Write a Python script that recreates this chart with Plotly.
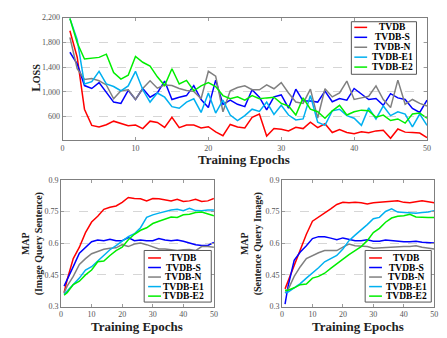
import plotly.graph_objects as go

# ---- top panel: training loss per epoch ----
epochs = list(range(1, 51))

loss_tvdb = [1986, 1560, 720, 459, 433, 470, 527, 485, 454, 464,
             407, 527, 506, 427, 590, 422, 464, 464, 417, 438,
             354, 291, 474, 433, 417, 590, 642, 286, 407, 396,
             370, 428, 407, 511, 422, 485, 344, 391, 344, 323,
             354, 339, 370, 380, 250, 400, 350, 345, 335, 260]
loss_tvdb_s = [1640, 1452, 1102, 1055, 1149, 982, 835, 814, 1024, 877,
               1055, 914, 982, 1175, 877, 914, 940, 1102, 877, 746,
               1190, 799, 867, 799, 762, 1034, 914, 710, 919, 950,
               736, 1044, 851, 851, 835, 1013, 840, 893, 867, 1055,
               961, 877, 893, 783, 971, 903, 877, 731, 668, 867]
loss_tvdb_n = [1881, 1374, 1201, 1217, 1180, 1112, 888, 1018, 1034, 877,
               1055, 1180, 1060, 1112, 1102, 1055, 1024, 1008, 888, 1332,
               1254, 679, 1018, 1070, 1097, 1034, 1034, 1112, 1050, 1149,
               982, 835, 814, 1044, 578, 1050, 919, 982, 1175, 877,
               903, 929, 1097, 877, 746, 1190, 799, 877, 814, 773]
loss_tvdb_e1 = [2184, 1844, 1128, 1165, 1332, 1128, 1086, 1018, 1097, 1332,
                1034, 835, 982, 914, 762, 736, 835, 888, 668, 982,
                658, 867, 626, 537, 616, 720, 684, 835, 637, 783,
                626, 548, 563, 940, 511, 459, 694, 720, 616, 574,
                459, 741, 563, 772, 616, 679, 642, 433, 642, 459]
loss_tvdb_e2 = [2184, 1792, 1531, 1547, 1557, 1609, 1311, 1206, 1269, 1572,
                1478, 1416, 1243, 1102, 1374, 1128, 1186, 1018, 1097, 1149,
                1086, 940, 888, 919, 867, 940, 888, 903, 914, 814,
                772, 626, 903, 720, 679, 574, 694, 783, 626, 679,
                705, 694, 590, 626, 537, 563, 495, 642, 658, 574]

# ---- bottom panels: MAP per epoch ----
map_epochs = [1, 2, 4, 6, 8, 10, 12, 14, 16, 18, 20, 22, 24, 26,
              28, 30, 32, 34, 36, 38, 40, 42, 44, 46, 48, 50]

iqs_tvdb = [0.366, 0.427, 0.527, 0.581, 0.650, 0.700, 0.727, 0.760, 0.770, 0.776, 0.793, 0.816, 0.811,
            0.810, 0.800, 0.811, 0.810, 0.806, 0.800, 0.808, 0.797, 0.800, 0.808, 0.797, 0.800, 0.811]
iqs_tvdb_s = [0.397, 0.430, 0.489, 0.553, 0.578, 0.607, 0.615, 0.612, 0.619, 0.612, 0.612, 0.627, 0.612,
              0.615, 0.612, 0.612, 0.622, 0.615, 0.612, 0.615, 0.609, 0.600, 0.593, 0.589, 0.589, 0.604]
iqs_tvdb_n = [0.366, 0.397, 0.443, 0.500, 0.527, 0.550, 0.561, 0.571, 0.576, 0.578, 0.593, 0.584, 0.596,
              0.601, 0.593, 0.584, 0.573, 0.573, 0.569, 0.565, 0.569, 0.570, 0.565, 0.584, 0.584, 0.581]
iqs_tvdb_e1 = [0.358, 0.374, 0.404, 0.435, 0.473, 0.489, 0.516, 0.542, 0.569, 0.588, 0.608, 0.631, 0.645,
               0.673, 0.722, 0.734, 0.742, 0.750, 0.757, 0.760, 0.754, 0.765, 0.754, 0.753, 0.757, 0.757]
iqs_tvdb_e2 = [0.354, 0.366, 0.404, 0.420, 0.450, 0.473, 0.512, 0.516, 0.542, 0.565, 0.581, 0.616, 0.642,
               0.661, 0.673, 0.693, 0.704, 0.714, 0.724, 0.722, 0.734, 0.737, 0.745, 0.747, 0.739, 0.730]

sqi_tvdb = [0.384, 0.420, 0.496, 0.565, 0.642, 0.704, 0.722, 0.742, 0.762, 0.783, 0.793, 0.791, 0.793,
            0.791, 0.785, 0.791, 0.793, 0.796, 0.796, 0.800, 0.793, 0.791, 0.796, 0.800, 0.796, 0.791]
sqi_tvdb_s = [0.312, 0.397, 0.519, 0.558, 0.588, 0.622, 0.631, 0.630, 0.624, 0.616, 0.625, 0.619, 0.612,
              0.612, 0.616, 0.609, 0.609, 0.615, 0.612, 0.612, 0.607, 0.607, 0.609, 0.604, 0.604, 0.601]
sqi_tvdb_n = [0.366, 0.381, 0.443, 0.489, 0.527, 0.542, 0.555, 0.565, 0.565, 0.565, 0.581, 0.596, 0.588,
              0.585, 0.584, 0.576, 0.578, 0.581, 0.581, 0.584, 0.584, 0.584, 0.588, 0.581, 0.576, 0.573]
sqi_tvdb_e1 = [0.366, 0.369, 0.389, 0.409, 0.435, 0.458, 0.484, 0.512, 0.527, 0.542, 0.573, 0.612, 0.638,
               0.661, 0.688, 0.716, 0.722, 0.750, 0.762, 0.747, 0.745, 0.742, 0.742, 0.745, 0.747, 0.754]
sqi_tvdb_e2 = [0.378, 0.378, 0.389, 0.404, 0.407, 0.435, 0.443, 0.458, 0.481, 0.504, 0.523, 0.546, 0.565,
               0.584, 0.612, 0.650, 0.670, 0.699, 0.719, 0.727, 0.730, 0.737, 0.724, 0.722, 0.722, 0.722]

names = ['TVDB', 'TVDB-S', 'TVDB-N', 'TVDB-E1', 'TVDB-E2']
colors = ['#ff0000', '#0000ff', '#808080', '#00b0f0', '#00ee00']

SERIF = 'Liberation Serif'
W, H = 447, 338


def px(x):
    return x / W


def py(y):
    return 1 - y / H


fig = go.Figure()

panels = [
    ('x', 'y', epochs, [loss_tvdb, loss_tvdb_s, loss_tvdb_n, loss_tvdb_e1, loss_tvdb_e2]),
    ('x2', 'y2', map_epochs, [iqs_tvdb, iqs_tvdb_s, iqs_tvdb_n, iqs_tvdb_e1, iqs_tvdb_e2]),
    ('x3', 'y3', map_epochs, [sqi_tvdb, sqi_tvdb_s, sqi_tvdb_n, sqi_tvdb_e1, sqi_tvdb_e2]),
]
for xa, ya, xs, series in panels:
    for name, color, ys in zip(names, colors, series):
        fig.add_trace(go.Scatter(
            x=xs, y=ys, mode='lines', name=name, showlegend=False,
            line=dict(color=color, width=1.5),
            xaxis=xa, yaxis=ya
        ))

axis_common = dict(
    showline=True, linecolor='#7f7f7f', linewidth=1, mirror='allticks',
    ticks='inside', ticklen=3, tickcolor='#9a9a9a',
    tickfont=dict(family=SERIF, size=8, color='#555555'),
    zeroline=False,
)
xgrid = dict(showgrid=False)
ygrid = dict(showgrid=True, gridcolor='#d6d6d6', griddash='dash', gridwidth=1)

map_ticks = [0.3, 0.45, 0.6, 0.75, 0.9]
map_labels = ['0.3', '0.45', '0.6', '0.75', '0.9']

fig.update_layout(
    width=W, height=H,
    margin=dict(l=0, r=0, t=0, b=0),
    paper_bgcolor='white', plot_bgcolor='white',
    font=dict(family=SERIF, color='black'),
    showlegend=False,
    xaxis=dict(domain=[0.1193, 0.9456], range=[0, 50], tickvals=[0, 10, 20, 30, 40, 50],
               anchor='y', **axis_common, **xgrid),
    yaxis=dict(domain=[0.6104, 0.9831], range=[220, 2200], tickvals=[600, 1000, 1400, 1800, 2200],
               tickformat=',', anchor='x', **axis_common, **ygrid),
    xaxis2=dict(domain=[0.1157, 0.4624], range=[0, 50], tickvals=[0, 10, 20, 30, 40, 50],
                anchor='y2', **axis_common, **xgrid),
    yaxis2=dict(domain=[0.1044, 0.4902], range=[0.3, 0.9], tickvals=map_ticks, ticktext=map_labels,
                anchor='x2', **axis_common, **ygrid),
    xaxis3=dict(domain=[0.6168, 0.962], range=[0, 50], tickvals=[0, 10, 20, 30, 40, 50],
                anchor='y3', **axis_common, **xgrid),
    yaxis3=dict(domain=[0.1044, 0.4902], range=[0.3, 0.9], tickvals=map_ticks, ticktext=map_labels,
                anchor='x3', **axis_common, **ygrid),
)


# compact legend boxes (plotly's own legend rows are too tall here)
def add_legend(x0, x1, y0, y1, first_row, row_gap, line_x0, line_x1, text_x):
    fig.add_shape(type='rect', xref='paper', yref='paper',
                  x0=px(x0), x1=px(x1), y0=py(y1), y1=py(y0),
                  line=dict(color='#555555', width=1), fillcolor='white', layer='above')
    for i, (name, color) in enumerate(zip(names, colors)):
        yy = first_row + i * row_gap
        fig.add_shape(type='line', xref='paper', yref='paper',
                      x0=px(line_x0), x1=px(line_x1), y0=py(yy), y1=py(yy),
                      line=dict(color=color, width=1.5), layer='above')
        fig.add_annotation(text=name, x=px(text_x), y=py(yy), xref='paper', yref='paper',
                           xanchor='center', yanchor='middle', showarrow=False,
                           font=dict(family=SERIF, size=9.5, color='black', weight='bold'))


add_legend(346, 412, 10, 64, 15.8, 10.2, 349, 362, 388)
add_legend(136, 204, 245, 298, 252.7, 9.8, 140, 153, 176)
add_legend(360, 427, 245, 298, 252.7, 9.8, 364, 377, 402)

# axis titles
title_font = dict(family=SERIF, size=13, color='#222222', weight='bold')
sub_font = dict(family=SERIF, size=10, color='#222222', weight='bold')


def add_title(text, x, y, font, angle=0):
    fig.add_annotation(text=text, x=px(x), y=py(y), xref='paper', yref='paper',
                       xanchor='center', yanchor='middle', showarrow=False,
                       textangle=angle, font=font)


add_title('Training Epochs', 237, 152, title_font)
add_title("L<span style='font-size:10px'>OSS</span>", 26, 68, title_font, -90)
add_title('Training Epochs', 129, 323, title_font)
add_title('Training Epochs', 353, 323, title_font)
add_title('MAP<br>(Image Query Sentence)', 23, 238, sub_font, -90)
add_title('MAP<br>(Sentence Query Image)', 245, 238, sub_font, -90)

fig.write_html("out.html")
